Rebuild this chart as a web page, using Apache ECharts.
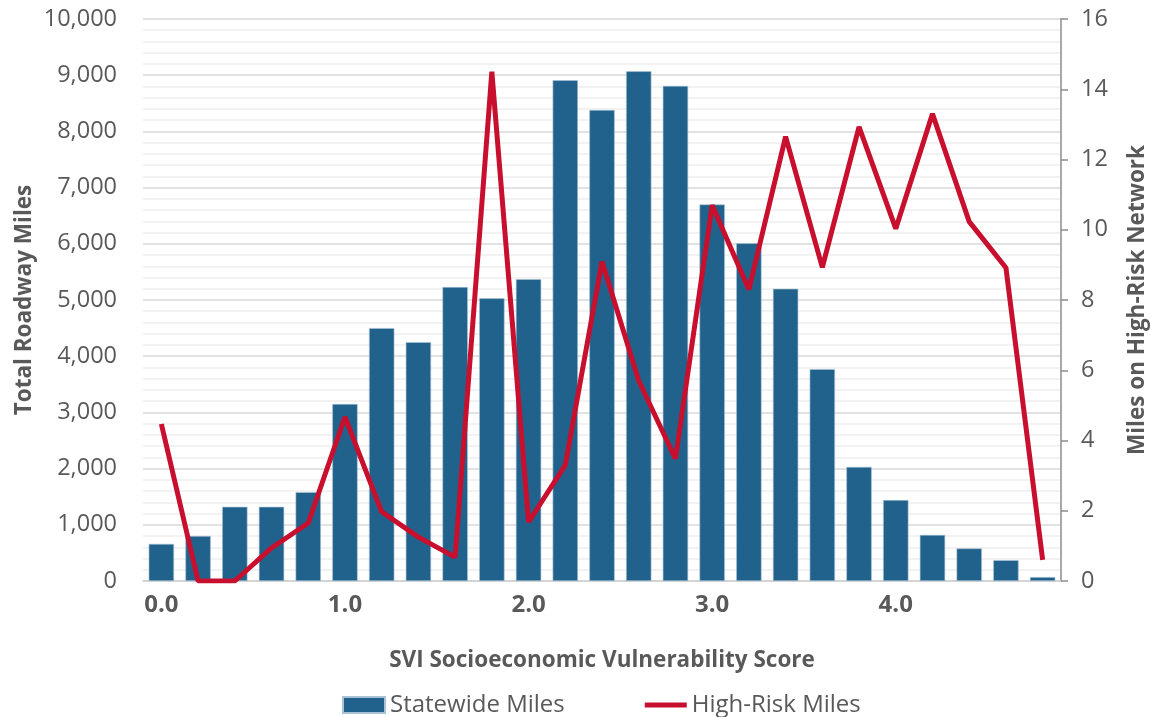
<!DOCTYPE html>
<html>
<head>
<meta charset="utf-8">
<script src="https://cdn.jsdelivr.net/npm/echarts@6/dist/echarts.min.js"></script>
<style>
  html, body { margin: 0; padding: 0; background: #fff; }
  #chart { width: 1151px; height: 717px; }
</style>
</head>
<body>
<div id="chart"></div>
<script>
// SVI score buckets
var categories = ["0.0", "0.2", "0.4", "0.6", "0.8", "1.0", "1.2", "1.4", "1.6", "1.8",
  "2.0", "2.2", "2.4", "2.6", "2.8", "3.0", "3.2", "3.4", "3.6", "3.8",
  "4.0", "4.2", "4.4", "4.6", "4.8"];

// total roadway miles (left axis)
var statewideMiles = [660, 800, 1320, 1320, 1580, 3150, 4500, 4250, 5230, 5030,
  5370, 8910, 8380, 9070, 8810, 6700, 6010, 5200, 3770, 2030,
  1440, 820, 580, 370, 70];

// miles on high-risk network (right axis)
var highRiskMiles = [4.47, 0, 0, 0.94, 1.65, 4.67, 1.97, 1.25, 0.68, 14.5,
  1.68, 3.3, 9.1, 5.7, 3.48, 10.7, 8.3, 12.65, 8.93, 12.93,
  10.03, 13.3, 10.23, 8.92, 0.6];

var font = "'Open Sans', sans-serif";
var grey = "#595959";

var chart = echarts.init(document.getElementById("chart"));
chart.setOption({
  animation: false,
  textStyle: { fontFamily: font },
  grid: { left: 143, right: 90, top: 19, bottom: 136, containLabel: false, outerBoundsMode: "none" },
  legend: {
    top: 688,
    left: 337,
    itemGap: 80,
    itemWidth: 42,
    itemHeight: 16,
    textStyle: { fontSize: 24, color: grey, fontFamily: font },
    data: [
      { name: "Statewide Miles", icon: "rect" },
      { name: "High-Risk Miles", icon: "path://M0,0 L43,0 L43,5 L0,5 Z" }
    ]
  },
  xAxis: {
    type: "category",
    data: categories,
    name: "SVI Socioeconomic Vulnerability Score",
    nameLocation: "middle",
    nameGap: 68,
    nameMoveOverlap: false,
    nameTextStyle: { fontSize: 22.5, fontWeight: "bold", color: grey },
    axisLine: { lineStyle: { color: "#d0d0d0", width: 1.5 } },
    axisTick: { show: false },
    axisLabel: { interval: 4, fontSize: 24, fontWeight: "bold", color: grey, margin: 12 }
  },
  yAxis: [
    {
      type: "value",
      min: 0,
      max: 10000,
      interval: 1000,
      name: "Total Roadway Miles",
      nameLocation: "middle",
      nameGap: 107,
      nameMoveOverlap: false,
      nameTextStyle: { fontSize: 22.5, fontWeight: "bold", color: grey },
      axisLabel: {
        fontSize: 23.5, color: grey, margin: 26,
        formatter: function (v) { return v.toLocaleString("en-US"); }
      },
      axisLine: { show: false },
      axisTick: { show: false },
      splitLine: { lineStyle: { color: "#d9d9d9", width: 1.5 } },
      minorTick: { show: false, splitNumber: 5 },
      minorSplitLine: { show: true, lineStyle: { color: "#eeeeee", width: 1.5 } }
    },
    {
      type: "value",
      min: 0,
      max: 16,
      interval: 2,
      name: "Miles on High-Risk Network",
      nameLocation: "middle",
      nameGap: 65,
      nameRotate: 90,
      nameMoveOverlap: false,
      nameTextStyle: { fontSize: 22.5, fontWeight: "bold", color: grey },
      axisLabel: { fontSize: 23.5, color: grey, margin: 20 },
      axisLine: { show: true, lineStyle: { color: "#8c8c8c", width: 1.5 } },
      axisTick: { show: true, length: 7, lineStyle: { color: "#8c8c8c", width: 1.5 } },
      splitLine: { show: false }
    }
  ],
  series: [
    {
      name: "Statewide Miles",
      type: "bar",
      data: statewideMiles,
      barCategoryGap: "31%",
      itemStyle: { color: "#21628c", borderColor: "#a9c3d6", borderWidth: 0.6 }
    },
    {
      name: "High-Risk Miles",
      type: "line",
      yAxisIndex: 1,
      data: highRiskMiles,
      symbol: "none",
      lineStyle: { color: "#c8102e", width: 5 },
      itemStyle: { color: "#c8102e" }
    }
  ]
});
</script>
</body>
</html>
